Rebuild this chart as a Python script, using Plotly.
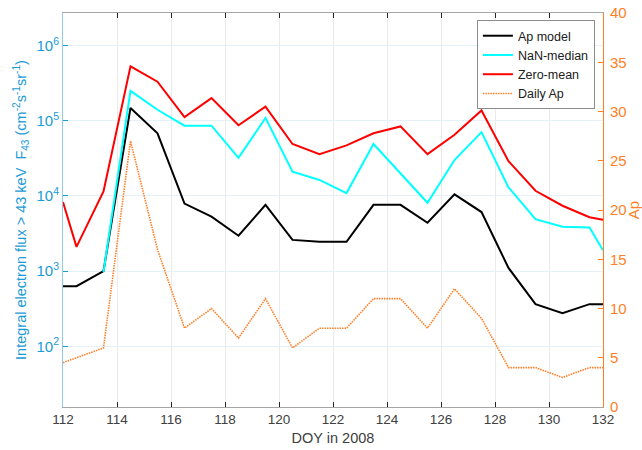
import plotly.graph_objects as go

# Day of year (2008); first and last entries sit on the axis limits
doy = [112, 112.5, 113.5, 114.5, 115.5, 116.5, 117.5, 118.5, 119.5, 120.5,
       121.5, 122.5, 123.5, 124.5, 125.5, 126.5, 127.5, 128.5, 129.5, 130.5,
       131.5, 132]

# Integral electron flux > 43 keV (cm^-2 s^-1 sr^-1)
ap_model = [630, 630, 1000, 1.48e5, 6.8e4, 7.9e3, 5.3e3, 2.95e3, 7.6e3, 2.6e3,
            2.45e3, 2.45e3, 7.6e3, 7.6e3, 4.4e3, 1.05e4, 6.1e3, 1.1e3, 363, 275,
            363, 363]
nan_median = [None, None, 970, 2.5e5, 1.4e5, 8.6e4, 8.6e4, 3.2e4, 1.09e5, 2.1e4,
              1.63e4, 1.09e4, 4.9e4, 2.0e4, 8.1e3, 3.0e4, 7.05e4, 1.3e4, 4.9e3, 3.9e3,
              3.8e3, 1.9e3]
zero_mean = [8.3e3, 2.1e3, 1.15e4, 5.3e5, 3.3e5, 1.12e5, 2.0e5, 8.7e4, 1.54e5, 4.9e4,
             3.6e4, 4.7e4, 6.8e4, 8.4e4, 3.6e4, 6.5e4, 1.37e5, 2.9e4, 1.17e4, 7.4e3,
             5.2e3, 4.8e3]

# Daily geomagnetic Ap index
daily_ap = [4.5, 5, 6, 27, 16, 8, 10, 7, 11, 6, 8, 8, 11, 11, 8, 12, 9, 4, 4, 3, 4, 4]

x_ticks = list(range(112, 133, 2))
flux_ticks = [1e2, 1e3, 1e4, 1e5, 1e6]
flux_tick_text = ["10<sup>2</sup>", "10<sup>3</sup>", "10<sup>4</sup>",
                  "10<sup>5</sup>", "10<sup>6</sup>"]
ap_ticks = list(range(0, 41, 5))

BLUE = "#1A9AD6"
ORANGE = "#FF7F27"
GREY_TXT = "#404040"
FONT = "Liberation Sans, Arial, sans-serif"

fig = go.Figure()
fig.add_trace(go.Scatter(x=doy, y=ap_model, name="Ap model", mode="lines",
                         line=dict(color="black", width=2)))
fig.add_trace(go.Scatter(x=doy, y=nan_median, name="NaN-median", mode="lines",
                         line=dict(color="#00FFFF", width=2)))
fig.add_trace(go.Scatter(x=doy, y=zero_mean, name="Zero-mean", mode="lines",
                         line=dict(color="#FF0000", width=2)))
fig.add_trace(go.Scatter(x=doy, y=daily_ap, name="Daily Ap", mode="lines",
                         yaxis="y2", line=dict(color=ORANGE, width=1.6, dash="1.5px,1px")))

fig.update_layout(
    width=642, height=450,
    margin=dict(l=63, r=39, t=13, b=43, autoexpand=False),
    paper_bgcolor="white", plot_bgcolor="white",
    font=dict(family=FONT, size=13, color=GREY_TXT),
    showlegend=True,
    legend=dict(x=0.985, y=0.982, xanchor="right", yanchor="top",
                bgcolor="white", bordercolor="#8C8C8C", borderwidth=1,
                font=dict(family=FONT, size=12.5, color="#202020"),
                tracegroupgap=0, itemwidth=30),
    xaxis=dict(
        range=[112, 132], tickvals=x_ticks, ticks="inside", ticklen=5,
        tickcolor="#262626", showline=True, linecolor="#A6A6A6", linewidth=1,
        mirror="ticks", showgrid=True, gridcolor="#EBEBEB", zeroline=False,
        tickfont=dict(size=13.5, color=GREY_TXT), automargin=False,
        title=dict(text="DOY in 2008", font=dict(size=14.5, color=GREY_TXT), standoff=6),
    ),
    yaxis=dict(
        type="log", range=[1.192, 6.433], tickvals=flux_ticks, ticktext=flux_tick_text,
        ticks="inside", ticklen=5, tickcolor=BLUE, showline=True, linecolor="#8FCBEA",
        linewidth=1, showgrid=True, gridcolor="#E4F1F9", zeroline=False,
        tickfont=dict(size=15, color=BLUE), automargin=False,
        title=dict(text="Integral electron flux > 43 keV  F<sub>43</sub> "
                        "(cm<sup>-2</sup>s<sup>-1</sup>sr<sup>-1</sup>)",
                   font=dict(size=14.5, color=BLUE), standoff=6),
    ),
    yaxis2=dict(
        overlaying="y", side="right", range=[0, 40], tickvals=ap_ticks,
        ticks="inside", ticklen=5, tickcolor=ORANGE, showline=True,
        linecolor=ORANGE, linewidth=1, showgrid=False, zeroline=False,
        tickfont=dict(size=15, color=ORANGE), automargin=False,
        ticklabelstandoff=3,
        title=dict(text="Ap", font=dict(size=15, color=ORANGE), standoff=6),
    ),
)

fig.write_html("out.html")
